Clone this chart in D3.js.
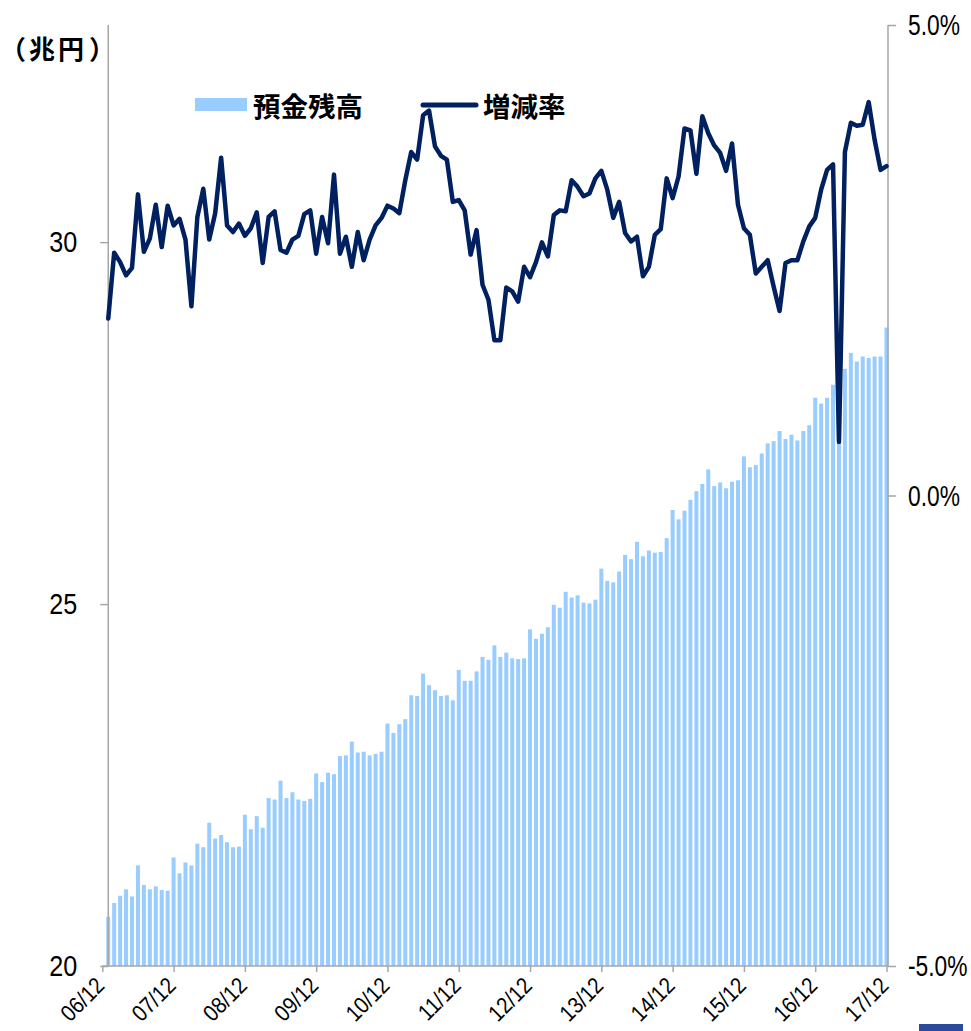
<!DOCTYPE html>
<html lang="ja">
<head>
<meta charset="utf-8">
<title>預金残高と増減率</title>
<script src="https://d3js.org/d3.v7.min.js"></script>
<style>
  body { margin: 0; background: #fff; }
  .num { font-family: "Liberation Sans", Arial, sans-serif; fill: #000; }
  .jp { font-family: "Noto Sans CJK JP", sans-serif; font-weight: bold; fill: #000; }
</style>
</head>
<body>
<div id="chart"></div>
<script>
// x-axis tick labels (one per year)
const tickLabels = ["06/12","07/12","08/12","09/12","10/12","11/12","12/12","13/12","14/12","15/12","16/12","17/12"];

// monthly deposit balance (兆円), 07/01 .. 17/12
const deposits = [
  20.68,20.87,20.97,21.06,20.96,21.39,21.12,21.06,21.10,21.05,
  21.04,21.50,21.28,21.43,21.39,21.69,21.64,21.98,21.76,21.81,
  21.71,21.64,21.65,22.09,21.89,22.07,21.91,22.32,22.30,22.56,
  22.32,22.40,22.30,22.28,22.31,22.66,22.54,22.67,22.65,22.90,
  22.91,23.10,22.95,22.96,22.91,22.93,22.96,23.35,23.22,23.34,
  23.41,23.74,23.73,24.04,23.88,23.81,23.73,23.74,23.67,24.09,
  23.94,23.94,24.07,24.27,24.23,24.43,24.27,24.33,24.25,24.24,
  24.25,24.65,24.52,24.59,24.68,24.99,24.95,25.17,25.09,25.12,
  25.02,25.01,25.06,25.49,25.32,25.30,25.45,25.68,25.62,25.86,
  25.66,25.74,25.71,25.72,25.91,26.30,26.17,26.29,26.44,26.56,
  26.66,26.86,26.63,26.68,26.60,26.69,26.71,27.04,26.89,26.92,
  27.08,27.22,27.25,27.39,27.28,27.34,27.26,27.39,27.47,27.85,
  27.77,27.85,28.03,28.12,28.25,28.47,28.35,28.42,28.40,28.42,
  28.42,28.82
];

// year-on-year change (%)
const growthRate = [
  1.88,2.58,2.48,2.34,2.42,3.20,2.59,2.73,3.09,2.64,
  3.08,2.87,2.94,2.72,2.01,2.96,3.26,2.72,3.00,3.59,
  2.87,2.80,2.89,2.76,2.84,3.01,2.47,2.96,3.02,2.61,
  2.58,2.72,2.76,2.99,3.03,2.57,2.96,2.68,3.41,2.57,
  2.75,2.43,2.80,2.50,2.72,2.87,2.95,3.08,3.05,3.00,
  3.35,3.65,3.57,4.04,4.09,3.71,3.61,3.57,3.12,3.14,
  3.03,2.56,2.82,2.24,2.08,1.65,1.65,2.21,2.17,2.06,
  2.43,2.32,2.48,2.69,2.54,2.98,3.03,3.02,3.35,3.28,
  3.18,3.21,3.37,3.45,3.25,2.95,3.12,2.79,2.70,2.75,
  2.33,2.43,2.77,2.83,3.37,3.16,3.39,3.90,3.88,3.42,
  4.03,3.85,3.72,3.64,3.45,3.74,3.09,2.84,2.77,2.36,
  2.43,2.50,2.22,1.96,2.47,2.50,2.50,2.70,2.86,2.95,
  3.25,3.46,3.52,0.57,3.65,3.96,3.93,3.94,4.18,3.78,
  3.46,3.50
];

const leftTicks = [20, 25, 30];
const rightTicks = [-5, 0, 5];

const W = 971, H = 1031;
const axisColor = "#a6a6a6";

const svg = d3.select("#chart").append("svg")
  .attr("width", W).attr("height", H);

// month index: 0 = 06/12, data starts at 1
const x = d3.scaleLinear().domain([0, 132]).range([102.3, 886.5]);
const yL = d3.scaleLinear().domain([20, 33]).range([966, 25]);
const yR = d3.scaleLinear().domain([-5, 5]).range([966, 25]);

const data = deposits.map((v, i) => ({ i: i + 1, dep: v, rate: growthRate[i] }));

// bars
const barW = 4;
svg.append("g").selectAll("rect")
  .data(data)
  .join("rect")
  .attr("x", d => x(d.i) - barW / 2)
  .attr("y", d => yL(d.dep))
  .attr("width", barW)
  .attr("height", d => yL(20) - yL(d.dep))
  .attr("fill", "#99ccff");

// axes
const leftX = x(1);
const rightX = 888;

const gl = svg.append("g").attr("transform", `translate(${leftX},0)`)
  .call(d3.axisLeft(yL).tickValues(leftTicks).tickSize(8).tickFormat(d3.format("d")));
const gr = svg.append("g").attr("transform", `translate(${rightX},0)`)
  .call(d3.axisRight(yR).tickValues(rightTicks).tickSize(8).tickFormat(d => d.toFixed(1) + "%"));
const gx = svg.append("g").attr("transform", `translate(0,966)`)
  .call(d3.axisBottom(x).tickValues(d3.range(0, 133, 12)).tickSize(6).tickFormat((d, k) => tickLabels[k]));

[gl, gr, gx].forEach(g => {
  g.select(".domain").attr("stroke", axisColor).attr("stroke-width", 1.5);
  g.selectAll(".tick line").attr("stroke", axisColor).attr("stroke-width", 1.5);
  g.selectAll("text").attr("class", "num").attr("fill", "#000");
});
gl.select(".domain").attr("d", `M0,25V966`);
gr.select(".domain").attr("d", `M0,25V966`);
gx.select(".domain").attr("d", `M${x(0)},0H${rightX}`);

// condensed look for the numbers
gl.selectAll("text").attr("font-size", 30).attr("x", null)
  .attr("transform", "translate(-31,0) scale(0.84,1)");
gr.selectAll("text").attr("font-size", 30).attr("x", null)
  .attr("transform", "translate(20,0) scale(0.76,1)");
gx.selectAll("text")
  .attr("font-size", 23)
  .attr("text-anchor", "end")
  .attr("dy", null).attr("y", null)
  .attr("transform", "translate(3,21) rotate(-45) scale(0.88,1)");

// line
const line = d3.line().x(d => x(d.i)).y(d => yR(d.rate));
svg.append("path")
  .datum(data)
  .attr("d", line)
  .attr("fill", "none")
  .attr("stroke", "#002060")
  .attr("stroke-width", 4.5)
  .attr("stroke-linejoin", "round")
  .attr("stroke-linecap", "round");

// unit label, spaced out like the original
const unit = svg.append("text").attr("class", "jp").attr("font-size", 26)
  .attr("x", 0).attr("y", 47).attr("dominant-baseline", "central");
unit.append("tspan").text("（");
unit.append("tspan").attr("dx", 3).text("兆");
unit.append("tspan").attr("dx", 3).text("円");
unit.append("tspan").attr("dx", 5).text("）");

// legend
svg.append("rect").attr("x", 195).attr("y", 98).attr("width", 52).attr("height", 13).attr("fill", "#99ccff");
svg.append("text").attr("class", "jp").attr("x", 253).attr("y", 105)
  .attr("dominant-baseline", "central").attr("font-size", 27.5).text("預金残高");
svg.append("line").attr("x1", 423).attr("x2", 476).attr("y1", 105).attr("y2", 105)
  .attr("stroke", "#002060").attr("stroke-width", 5).attr("stroke-linecap", "round");
svg.append("text").attr("class", "jp").attr("x", 483).attr("y", 105)
  .attr("dominant-baseline", "central").attr("font-size", 27.5).text("増減率");

// corner mark
svg.append("rect").attr("x", 919).attr("y", 1024).attr("width", 44).attr("height", 10).attr("fill", "#2b4a9b");
</script>
</body>
</html>
